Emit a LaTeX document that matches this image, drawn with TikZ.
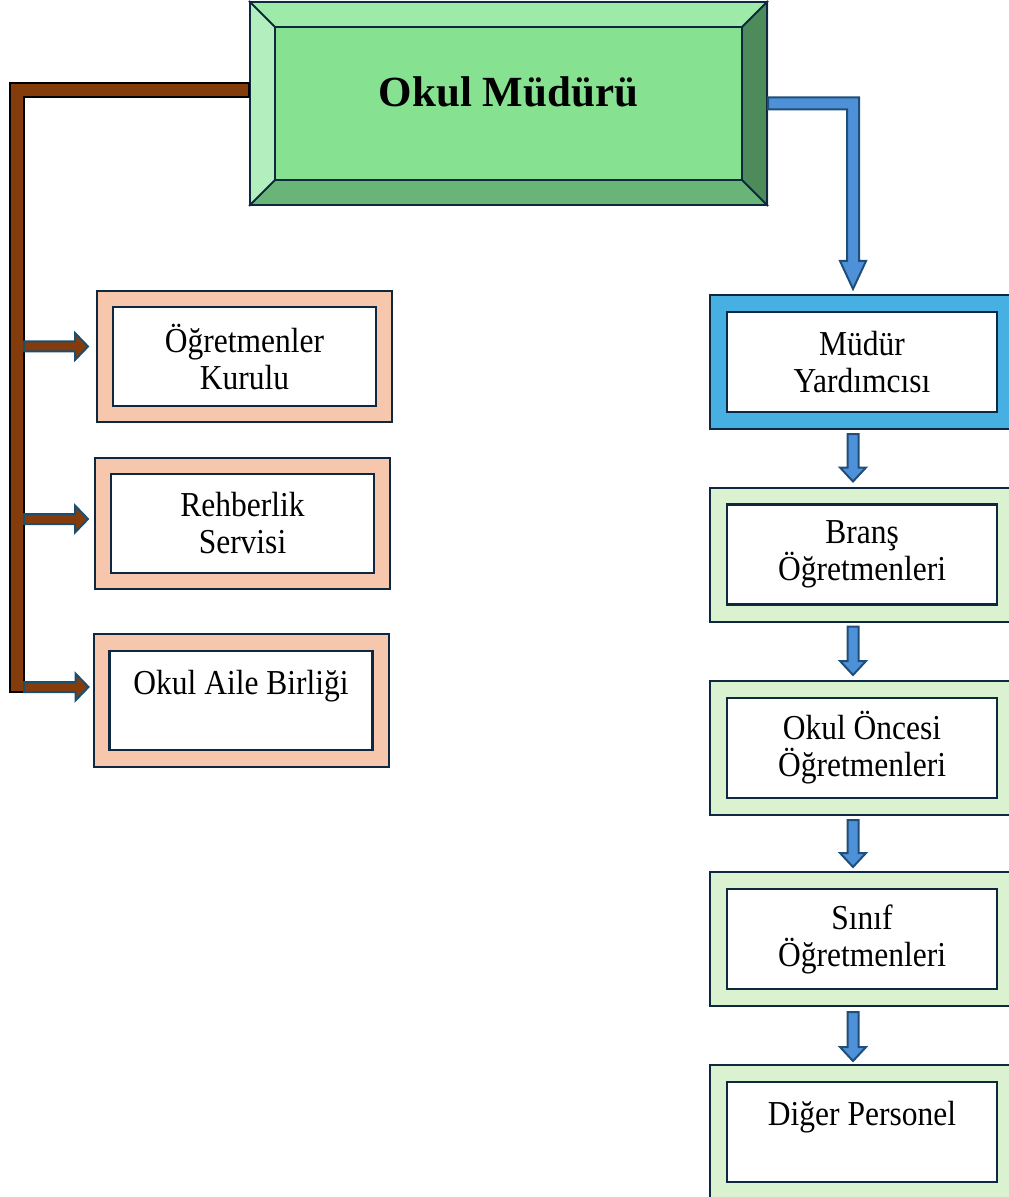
\documentclass[tikz,border=0pt]{standalone}
\usepackage{fontspec}
\setmainfont{Liberation Serif}[FakeStretch=0.9]
\newfontfamily\titlefont{Liberation Serif}
\usetikzlibrary{calc,backgrounds}

\definecolor{edge}{HTML}{0E2841}
\definecolor{peach}{HTML}{F6C6AD}
\definecolor{palegreen}{HTML}{DAF2D0}
\definecolor{skyblue}{HTML}{45B0E1}
\definecolor{trunkbrown}{HTML}{843C0C}
\definecolor{arrowteal}{HTML}{1B4F72}
\definecolor{arrowblue}{HTML}{4F91D8}
\definecolor{arrowedge}{HTML}{1F4E79}
\definecolor{bevface}{HTML}{86E291}
\definecolor{bevtop}{HTML}{9EEAA9}
\definecolor{bevleft}{HTML}{B3EEBF}
\definecolor{bevright}{HTML}{4E8B5A}
\definecolor{bevbottom}{HTML}{69B577}

\tikzset{
  outerbox/.style={draw=edge, line width=1pt, inner sep=0pt, outer sep=0pt},
  leftbox/.style={outerbox, fill=peach, minimum width=147.5pt, minimum height=65.5pt},
  rightbox/.style={outerbox, minimum width=152pt, minimum height=67pt},
  textbox/.style={draw=edge, line width=1.25pt, fill=white, inner sep=0pt,
    align=center, font=\fontsize{17.5}{18.5}\selectfont},
  lefttext/.style={textbox, minimum width=131.5pt, minimum height=49.5pt},
  righttext/.style={textbox, minimum width=135pt, minimum height=50pt},
  trunkbar/.style={fill=trunkbrown, draw=black, line width=1pt},
  sideblock/.style={fill=trunkbrown, draw=arrowteal, line width=1pt},
  downblock/.style={fill=arrowblue, draw=arrowedge, line width=1pt},
}

% block arrow to the right: x from #1, tip at #2
\newcommand\sideblock[2]{%
  \filldraw[sideblock] let \p1=(#1), \p2=(#2) in
    (\x1,\y2+2.5pt) -- (\x2-6.5pt,\y2+2.5pt) -- (\x2-6.5pt,\y2+6.75pt) -- (\x2,\y2)
    -- (\x2-6.5pt,\y2-6.75pt) -- (\x2-6.5pt,\y2-2.5pt) -- (\x1,\y2-2.5pt) -- cycle;}
% block arrow downwards: y from #1, tip at #2
\newcommand\downblock[2]{%
  \filldraw[downblock] let \p1=(#1), \p2=(#2) in
    (\x2-2.75pt,\y1) -- (\x2-2.75pt,\y2+7pt) -- (\x2-6.5pt,\y2+7pt) -- (\x2,\y2)
    -- (\x2+6.5pt,\y2+7pt) -- (\x2+2.75pt,\y2+7pt) -- (\x2+2.75pt,\y1) -- cycle;}

\begin{document}
\begin{tikzpicture}[x=0.5pt,y=-0.5pt]
  \useasboundingbox (0,0) rectangle (1008,1197);

  % head of the school
  \node[draw=edge, line width=1pt, minimum width=258.5pt, minimum height=101.5pt,
    text height=15pt, text depth=11.5pt,
    font=\titlefont\bfseries\fontsize{21.5}{26}\selectfont] (boss) at (508.5,103.5) {Okul Müdürü};
  \begin{scope}[on background layer]
    \fill[bevtop] (boss.north west) -- (boss.north east) -- ($(boss.north east)+(-26,26)$) -- ($(boss.north west)+(26,26)$) -- cycle;
    \fill[bevright] (boss.north east) -- (boss.south east) -- ($(boss.south east)+(-26,-26)$) -- ($(boss.north east)+(-26,26)$) -- cycle;
    \fill[bevbottom] (boss.south east) -- (boss.south west) -- ($(boss.south west)+(26,-26)$) -- ($(boss.south east)+(-26,-26)$) -- cycle;
    \fill[bevleft] (boss.south west) -- (boss.north west) -- ($(boss.north west)+(26,26)$) -- ($(boss.south west)+(26,-26)$) -- cycle;
    \filldraw[fill=bevface, draw=edge, line width=1pt] ($(boss.north west)+(26,26)$) rectangle ($(boss.south east)+(-26,-26)$);
    \draw[edge, line width=1pt] (boss.north west) -- ++(26,26) (boss.north east) -- ++(-26,26)
      (boss.south west) -- ++(26,-26) (boss.south east) -- ++(-26,-26);
  \end{scope}

  % left column
  \node[leftbox] (kurul) at (244.5,356.5) {};
  \node[lefttext] (kurulText) at (kurul) {Öğretmenler\\Kurulu};
  \node[leftbox] (rehber) at (242.5,523.5) {};
  \node[lefttext] (rehberText) at (rehber) {Rehberlik\\Servisi};
  \node[leftbox, minimum height=66.5pt] (aile) at (241,700.5) {};
  \node[lefttext] (aileText) at (aile) {Okul Aile Birliği\\\mbox{}};

  % right column
  \node[rightbox, fill=skyblue] (myard) at (862,362) {};
  \node[righttext] (myardText) at (myard) {Müdür\\Yardımcısı};
  \node[rightbox, fill=palegreen] (brans) at (862,554.5) {};
  \node[righttext] (bransText) at (brans) {Branş\\Öğretmenleri};
  \node[rightbox, fill=palegreen] (oncesi) at (862,748) {};
  \node[righttext] (oncesiText) at (oncesi) {Okul Öncesi\\Öğretmenleri};
  \node[rightbox, fill=palegreen] (sinif) at (862,939) {};
  \node[righttext] (sinifText) at (sinif) {Sınıf\\Öğretmenleri};
  \node[rightbox, fill=palegreen] (diger) at (862,1132) {};
  \node[righttext] (digerText) at (diger) {Diğer Personel\\\mbox{}};

  % brown trunk on the left
  \coordinate (trunk) at (10,83);
  \filldraw[trunkbar] (trunk) -- (trunk -| boss.west) -- ++(0,14) -- ($(trunk)+(14,14)$)
    -- ($(trunk)+(14,609)$) -- ($(trunk)+(0,609)$) -- cycle;
  \sideblock{$(trunk)+(14,0)$}{$(kurul.west)+(-9,-10)$}
  \sideblock{$(trunk)+(14,0)$}{$(rehber.west)+(-7,-4.5)$}
  \sideblock{$(trunk)+(14,0)$}{$(aile.west)+(-5,-13.5)$}

  % blue line on the right
  \filldraw[downblock] let \p1=(boss.east), \p2=($(myard.north)+(-9,-6)$) in
    (\x1,\y1+3pt) -- (\x2+3pt,\y1+3pt) -- (\x2+3pt,\y2+14pt) -- (\x2+6.5pt,\y2+14pt) -- (\x2,\y2)
    -- (\x2-6.5pt,\y2+14pt) -- (\x2-3pt,\y2+14pt) -- (\x2-3pt,\y1-3pt) -- (\x1,\y1-3pt) -- cycle;
  \downblock{$(myard.south)+(-9,5)$}{$(brans.north)+(-9,-6)$}
  \downblock{$(brans.south)+(-9,5)$}{$(oncesi.north)+(-9,-6)$}
  \downblock{$(oncesi.south)+(-9,5)$}{$(sinif.north)+(-9,-5)$}
  \downblock{$(sinif.south)+(-9,6)$}{$(diger.north)+(-9,-4)$}
\end{tikzpicture}
\end{document}
